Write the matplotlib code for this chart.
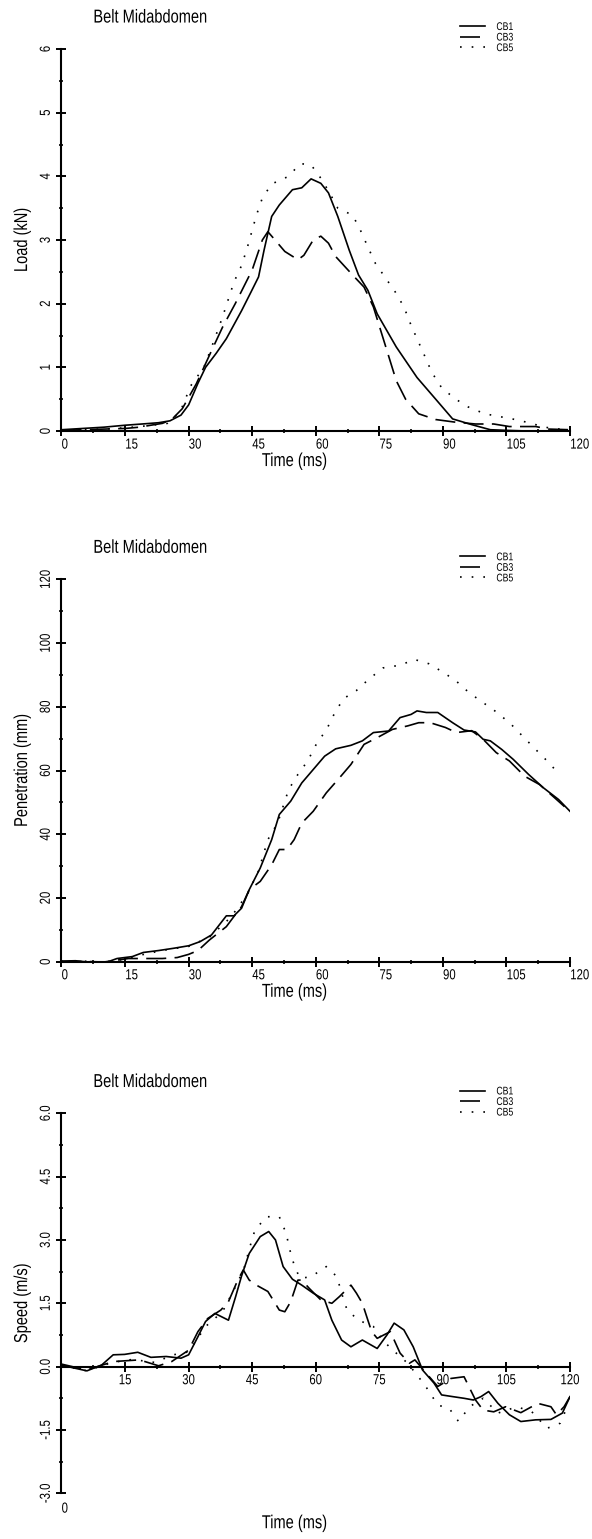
import matplotlib
matplotlib.use('Agg')
import matplotlib.pyplot as plt
from matplotlib.ticker import MultipleLocator, FormatStrFormatter, FuncFormatter
from matplotlib.patheffects import AbstractPathEffect
from matplotlib.transforms import Affine2D
from matplotlib.text import Text

plt.rcParams['font.family'] = ['Liberation Sans', 'DejaVu Sans']

series_names = ['CB1', 'CB3', 'CB5']
panel_title = 'Belt Midabdomen'

# ---- Load (kN) ----
load_t_cb1 = [0, 5, 10, 14.9, 19, 22.9, 25.6, 28.2, 30.0, 32.2, 34.0, 36.5, 38.9, 42.5, 44.7, 46.5,
              47.8, 49.6, 51.4, 54.5, 56.7, 58.9, 61.2, 63.0, 65.2, 67.9, 70.1, 72.3, 74.5, 79.0,
              83.9, 88.3, 92.3, 96.8, 101.2, 105, 110, 115, 120]
load_cb1 = [0.02, 0.04, 0.06, 0.09, 0.11, 0.13, 0.16, 0.25, 0.41, 0.75, 1.0, 1.22, 1.45, 1.89, 2.18, 2.42,
            2.84, 3.37, 3.55, 3.79, 3.82, 3.96, 3.89, 3.74, 3.37, 2.84, 2.45, 2.21, 1.84, 1.32,
            0.84, 0.50, 0.19, 0.10, 0.02, 0.01, 0.0, 0.0, 0.0]
load_t_cb3 = [0, 5, 10, 15, 18.4, 21, 23.8, 26, 28.5, 31.8, 35.4, 38.0, 41.0, 45.0, 47.4, 48.7, 50.0,
              52.7, 55.8, 57.2, 59.4, 61.2, 63.0, 64.7, 68.7, 71.4, 73.6, 76.3, 79.0, 81.2, 84.3,
              88.3, 92.8, 97.7, 102, 105.7, 111.9, 115, 120]
load_cb3 = [0.01, 0.02, 0.03, 0.04, 0.06, 0.09, 0.12, 0.18, 0.35, 0.74, 1.26, 1.63, 2.0, 2.53, 3.0, 3.13, 3.03,
            2.82, 2.69, 2.76, 3.0, 3.06, 2.95, 2.74, 2.45, 2.26, 1.95, 1.37, 0.79, 0.5, 0.27,
            0.18, 0.14, 0.11, 0.11, 0.07, 0.07, 0.03, 0.02]
load_t_cb5 = [0, 5, 10, 15, 20, 25, 28, 30.5, 33.6, 35.1, 36.7, 38.0, 40.7, 42.5, 43.8, 46.0, 47.4, 49.6,
              53.6, 56.3, 58.9, 61.2, 63.2, 65.2, 68.7, 70.5, 72.3, 74.1, 76.3, 78.8, 80.8, 82.5,
              84.1, 85.7, 87.4, 89.7, 92.8, 95.9, 99.9, 103.9, 107.9, 111.9, 115.5, 120]
load_cb5 = [0.01, 0.02, 0.03, 0.05, 0.08, 0.12, 0.3, 0.71, 1.0, 1.26, 1.55, 1.79, 2.34, 2.6, 2.87, 3.39, 3.66, 3.88,
            4.0, 4.2, 4.18, 3.97, 3.75, 3.5, 3.39, 3.16, 2.89, 2.63, 2.42, 2.18, 1.95, 1.66,
            1.42, 1.18, 0.92, 0.68, 0.51, 0.38, 0.27, 0.22, 0.17, 0.1, 0.04, 0.02]

# ---- Penetration (mm) ----
pen_t_cb1 = [0, 3.3, 6.9, 10.4, 13.1, 16.7, 19.3, 22.9, 26.4, 30.0, 32.7, 35.4, 38.9, 40.7, 42.5, 44.3,
             46.9, 49.6, 51.4, 54.1, 56.7, 59.4, 62.1, 64.7, 68.3, 71.0, 73.6, 77.2, 79.9, 82.5, 83.9,
             86.1, 88.8, 92.3, 95.0, 97.7, 99.5, 101.2, 103.9, 106.6, 110.2, 113.7, 117.3, 120]
pen_cb1 = [0.2, 0.3, -0.2, -0.3, 1.0, 1.6, 2.9, 3.5, 4.2, 5.0, 6.3, 8.4, 14.4, 14.4, 16.8, 22.6,
           29.4, 38.3, 46.2, 50.4, 56.1, 60.3, 64.5, 66.8, 67.9, 69.3, 71.9, 72.4, 76.6, 77.6, 78.7,
           78.2, 78.2, 75.0, 72.7, 72.1, 69.8, 69.3, 66.6, 63.5, 58.8, 54.6, 50.9, 47.2]
pen_t_cb3 = [0, 5, 10, 15.8, 23.8, 27.3, 30, 32.2, 34.9, 38.9, 40.7, 42.5, 44.3, 46.9, 49.6, 51.4, 53.2,
             54.9, 56.7, 59.4, 62.5, 65.6, 68.3, 71.4, 74.5, 78.1, 81.7, 84.3, 87.0, 90.6, 93.2, 96.8,
             99.5, 102.6, 105.7, 109.3, 112.8, 116.4, 119.5]
pen_cb3 = [0, 0.1, -0.1, 1.0, 1.0, 1.3, 2.3, 3.5, 6.8, 11.0, 14.2, 17.3, 22.6, 25.2, 30.4, 35.2, 35.2,
           38.3, 43.5, 47.2, 53.0, 57.7, 61.9, 68.2, 70.3, 72.9, 74.0, 75.0, 75.0, 73.5, 71.9, 72.5,
           69.8, 65.6, 63.0, 58.2, 55.6, 51.4, 47.7]
pen_t_cb5 = [0, 5, 10, 15, 20, 25, 30, 35, 40, 44, 46.5, 48.7, 51.0, 53.6, 55.8, 58.1, 60.3, 62.5, 64.3,
             66.5, 69.6, 72.6, 75.9, 79.7, 83.4, 86.7, 90.1, 93.2, 96.2, 99.5, 102.8, 106.1, 108.8,
             111.9, 114.6, 117.5]
pen_cb5 = [0.1, 0.2, -0.2, 0.8, 2.5, 3.8, 4.8, 7.8, 14.0, 21.5, 28.5, 38.3, 43.5, 54.0, 58.8, 63.0, 68.7, 72.7, 77.6,
           82.5, 85.1, 88.75, 92.2, 93.0, 94.8, 93.5, 90.8, 88.0, 84.4, 81.3, 78.2, 74.5, 70.8,
           66.6, 63.0, 58.8]

# ---- Speed (m/s) ----
spd_t_cb1 = [0, 2.4, 6, 9.5, 12.2, 14.9, 18, 21.1, 24.7, 28.2, 30, 32.2, 34, 36.2, 38, 39.4, 41.1, 42.5,
             44.3, 46.9, 48.9, 50.5, 52.3, 54.5, 56.7, 59.4, 62.1, 63.8, 66.1, 68.3, 71, 74.5, 76.8,
             78.5, 80.8, 83, 85.2, 87.9, 89.7, 92.3, 95, 97.2, 99, 100.8, 103, 105.7, 108.4, 111.9,
             115.5, 118.2, 120]
spd_cb1 = [0.04, -0.02, -0.10, 0.04, 0.28, 0.29, 0.34, 0.22, 0.24, 0.2, 0.28, 0.71, 1.07, 1.26, 1.17, 1.10, 1.66, 2.15,
           2.68, 3.08, 3.2, 3.0, 2.37, 2.07, 1.93, 1.74, 1.58, 1.1, 0.63, 0.47, 0.63, 0.43, 0.75,
           1.03, 0.87, 0.47, -0.08, -0.39, -0.67, -0.71, -0.75, -0.79, -0.71, -0.59, -0.87, -1.14, -1.3, -1.26,
           -1.25, -1.1, -0.71]
spd_t_cb3 = [0, 6, 12.2, 18.4, 22.9, 26, 30, 32.2, 34.5, 37.6, 39.4, 41.6, 42.9, 44.3, 46, 48.7, 51.4, 52.7,
             54.1, 55.8, 56.7, 58.5, 61.2, 63.8, 65.6, 68.3, 69.6, 71, 72.3, 73.2, 74.5, 77.6, 79.9,
             82.1, 83.4, 86.1, 88.8, 91.9, 95, 97.7, 99.5, 102, 104.8, 108.4, 112.4, 115.5, 116.8,
             118.6, 120]
spd_cb3 = [0.06, -0.08, 0.12, 0.16, 0.02, 0.12, 0.39, 0.83, 1.14, 1.34, 1.54, 2.05, 2.29, 2.05, 1.93, 1.78, 1.34, 1.3,
           1.54, 2.05, 2.05, 1.85, 1.58, 1.5, 1.66, 1.93, 1.74, 1.5, 1.1, 0.83, 0.67, 0.83, 0.32,
           0.08, 0.16, -0.16, -0.47, -0.28, -0.24, -0.79, -1.03, -1.07, -0.95, -1.09, -0.87, -0.95, -1.14,
           -0.95, -0.71]
spd_t_cb5 = [0, 6, 12, 16.7, 22, 26.4, 30, 34, 38, 41.1, 43.0, 44.5, 45.6, 48.3, 51.4, 53, 53.9, 55, 56.3,
             58.9, 62.5, 65, 66.1, 67.4, 70.1, 73.6, 76, 79, 81.7, 85.7, 88.8, 91.5, 93.7, 96.3, 99.5,
             103, 107.5, 111, 114.6, 117.7, 119]
spd_cb5 = [0.03, -0.1, 0.1, 0.17, 0.1, 0.28, 0.35, 0.95, 1.3, 1.9, 2.3, 2.85, 3.22, 3.55, 3.55, 3.16, 2.76, 2.37, 2.09,
           2.13, 2.37, 2.13, 1.74, 1.34, 1.1, 0.95, 0.6, 0.32, 0.08, -0.43, -0.91, -0.99, -1.3, -0.95, -0.75,
           -1.1, -0.95, -1.07, -1.46, -1.34, -1.03]


class Narrow(AbstractPathEffect):
    """squeeze glyphs along the reading direction (no condensed font installed)"""

    def __init__(self, sx=0.78, anchor='center'):
        super().__init__()
        self.sx = sx
        self.anchor = anchor

    def draw_path(self, renderer, gc, tpath, affine, rgbFace=None):
        ext = tpath.get_extents()
        x0 = ext.x0 if self.anchor == 'left' else (ext.x0 + ext.x1) / 2
        squeeze = Affine2D().translate(-x0, 0).scale(self.sx, 1).translate(x0, 0)
        renderer.draw_path(gc, tpath, squeeze + affine, rgbFace)


W, H = 592, 1539
fig = plt.figure(figsize=(W / 100, H / 100), dpi=100)

# axes boxes in pixels: (bottom edge y, height)
boxes = [(431, 382), (961.7, 382.4), (1493.3, 380)]
ax_left, ax_width = 61.5 / W, 508.5 / W

line_styles = ['-', (0, (12, 5)), (0, (1, 6))]


def make_panel(box, data, ylim, ymaj, yfmt, ylabel):
    bottom, height = box
    ax = fig.add_axes([ax_left, 1 - bottom / H, ax_width, height / H])
    for (t, v), ls, name in zip(data, line_styles, series_names):
        ax.plot(t, v, color='black', lw=1.2, ls=ls, label=name)
    ax.set_xlim(0, 120)
    ax.set_ylim(*ylim)
    ax.spines[['top', 'right']].set_visible(False)
    ax.spines[['left', 'bottom']].set_linewidth(1.5)
    ax.xaxis.set_major_locator(MultipleLocator(15))
    ax.xaxis.set_minor_locator(MultipleLocator(7.5))
    ax.yaxis.set_major_locator(MultipleLocator(ymaj))
    ax.yaxis.set_minor_locator(MultipleLocator(ymaj / 2))
    ax.yaxis.set_major_formatter(FormatStrFormatter(yfmt))
    ax.tick_params(which='major', direction='inout', length=6.5, width=1.4, labelsize=10.5)
    ax.tick_params(which='minor', direction='inout', length=3.5, width=1.2)
    ax.tick_params(axis='x', pad=1.5)
    ax.tick_params(axis='y', pad=3)
    plt.setp(ax.get_yticklabels(), rotation=90, va='center')
    plt.setp(ax.get_xticklabels(), ha='left')
    ax.set_xlabel('Time (ms)', fontsize=13.5, va='center')
    ax.xaxis.set_label_coords(0.458, -0.08)
    ax.set_ylabel(ylabel, fontsize=13.5, va='center')
    ax.yaxis.set_label_coords(-0.0766, 0.5)
    ax.text(0.062, 1.081, panel_title, transform=ax.transAxes, fontsize=13.5, va='center', ha='left')
    ax.legend(loc='upper left', bbox_to_anchor=(0.784, 1.0707), frameon=False, fontsize=8,
              handlelength=2.25, handletextpad=1.0, labelspacing=0.05, borderpad=0, borderaxespad=0)
    return ax


make_panel(boxes[0], [(load_t_cb1, load_cb1), (load_t_cb3, load_cb3), (load_t_cb5, load_cb5)],
           (0, 6), 1, '%d', 'Load (kN)')
make_panel(boxes[1], [(pen_t_cb1, pen_cb1), (pen_t_cb3, pen_cb3), (pen_t_cb5, pen_cb5)],
           (0, 120), 20, '%d', 'Penetration (mm)')
ax3 = make_panel(boxes[2], [(spd_t_cb1, spd_cb1), (spd_t_cb3, spd_cb3), (spd_t_cb5, spd_cb5)],
                 (-3.0, 6.0), 1.5, '%.1f', 'Speed (m/s)')
ax3.spines['bottom'].set_position(('data', 0))
ax3.xaxis.set_major_formatter(FuncFormatter(lambda x, p: '' if x == 0 else '%d' % x))
ax3.annotate('0', xy=(0, -3.0), xytext=(0, -6), textcoords='offset points', ha='left', va='top',
             fontsize=10.5, annotation_clip=False)

# narrow look of the original lettering
fig.canvas.draw()
for txt in fig.findobj(Text):
    left = txt.get_ha() == 'left' and txt.get_rotation() == 0
    txt.set_path_effects([Narrow(0.78, 'left' if left else 'center')])

fig.savefig('out.png', dpi=100)
